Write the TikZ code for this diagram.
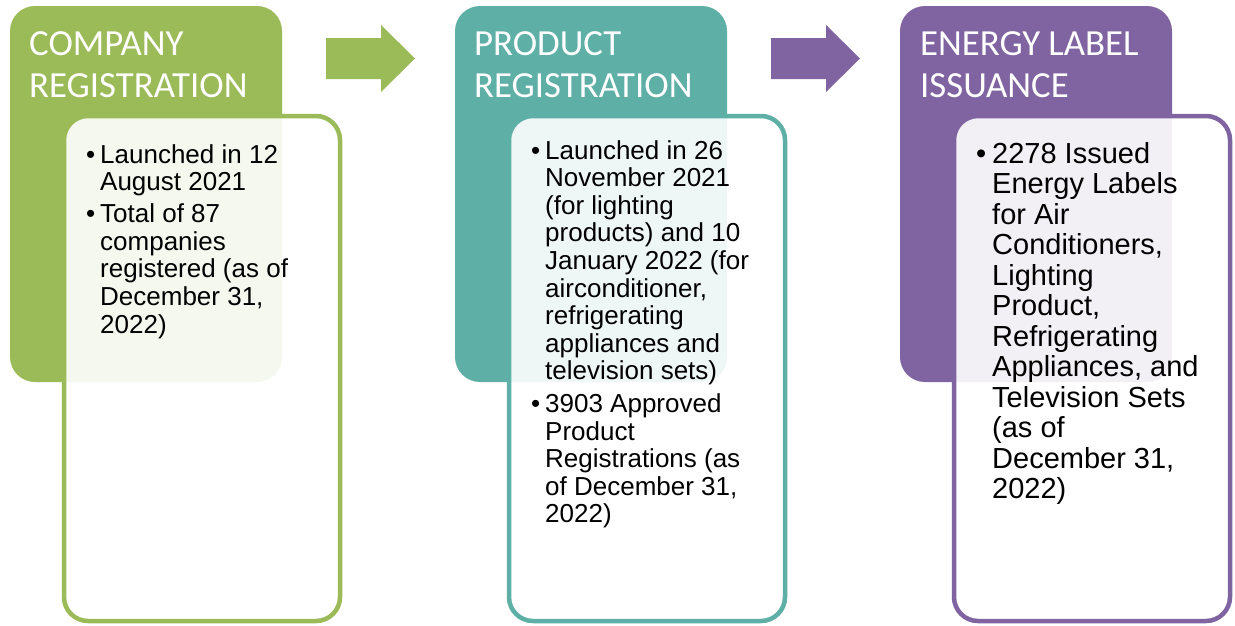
\documentclass[tikz,border=0pt]{standalone}
\usepackage{fontspec}
\newfontfamily\hfont{Carlito}
\newfontfamily\bfont{Liberation Sans}
\definecolor{cgreen}{RGB}{155,187,89}
\definecolor{cteal}{RGB}{94,175,166}
\definecolor{cpurple}{RGB}{128,100,162}
\tikzset{
  header/.style={rectangle, fill=#1, rounded corners=25pt, minimum width=272pt, minimum height=376pt, anchor=north west, inner sep=0pt, outer sep=0pt},
  inner/.style={rectangle, draw=#1, line width=4.5pt, fill=white, fill opacity=0.9, rounded corners=24pt, minimum width=276pt, minimum height=505pt, anchor=north west, inner sep=0pt, outer sep=0pt},
  headtext/.style={text=white, font=\hfont\fontsize{36.8}{42}\selectfont, anchor=base west, inner sep=0pt},
  body/.style={text=black, font=\bfont\fontsize{26}{27.6}\selectfont, anchor=base west, inner sep=0pt},
  bodyl/.style={text=black, font=\bfont\fontsize{29}{30.5}\selectfont, anchor=base west, inner sep=0pt}
}
\begin{document}
\begin{tikzpicture}[x=1pt, y=-1pt]
\useasboundingbox (0,0) rectangle (1235,625);
\fill[white] (0,0) rectangle (1235,625);
% headers
\node[header=cgreen] (h1) at (10,6) {};
\node[header=cteal] (h2) at (455,6) {};
\node[header=cpurple] (h3) at (900,6) {};
% block arrows
\fill[cgreen] (326,38) -- (381,38) -- (381,25) -- (415,58.5) -- (381,92) -- (381,79) -- (326,79) -- cycle;
\fill[cpurple] (771,38) -- (826,38) -- (826,25) -- (860,58.5) -- (826,92) -- (826,79) -- (771,79) -- cycle;
% inner boxes
\node[inner=cgreen] (b1) at (64,116) {};
\node[inner=cteal] (b2) at (509,116) {};
\node[inner=cpurple] (b3) at (954,116) {};
% header texts
\node[headtext] (t1) at (29,55) {\begin{tabular}[t]{@{}l@{}}COMPANY\\REGISTRATION\end{tabular}};
\node[headtext] (t2) at (474,55) {\begin{tabular}[t]{@{}l@{}}PRODUCT\\REGISTRATION\end{tabular}};
\node[headtext] (t3) at (920,55) {\begin{tabular}[t]{@{}l@{}}ENERGY LABEL\\ISSUANCE\end{tabular}};
% body texts
\node[body] (x1) at (86,163) {\begin{tabular}[t]{@{}p{14pt}@{}l@{}}
•&Launched in 12\\
&August 2021\\[4.5pt]
•&Total of 87\\
&companies\\
&registered (as of\\
&December 31,\\
&2022)
\end{tabular}};
\node[body] (x2) at (531,159) {\begin{tabular}[t]{@{}p{14pt}@{}l@{}}
•&Launched in 26\\
&November 2021\\
&(for lighting\\
&products) and 10\\
&January 2022 (for\\
&airconditioner,\\
&refrigerating\\
&appliances and\\
&television sets)\\[5pt]
•&3903 Approved\\
&Product\\
&Registrations (as\\
&of December 31,\\
&2022)
\end{tabular}};
\node[bodyl] (x3) at (976,163) {\begin{tabular}[t]{@{}p{16pt}@{}l@{}}
•&2278 Issued\\
&Energy Labels\\
&for Air\\
&Conditioners,\\
&Lighting\\
&Product,\\
&Refrigerating\\
&Appliances, and\\
&Television Sets\\
&(as of\\
&December 31,\\
&2022)
\end{tabular}};
\end{tikzpicture}
\end{document}
